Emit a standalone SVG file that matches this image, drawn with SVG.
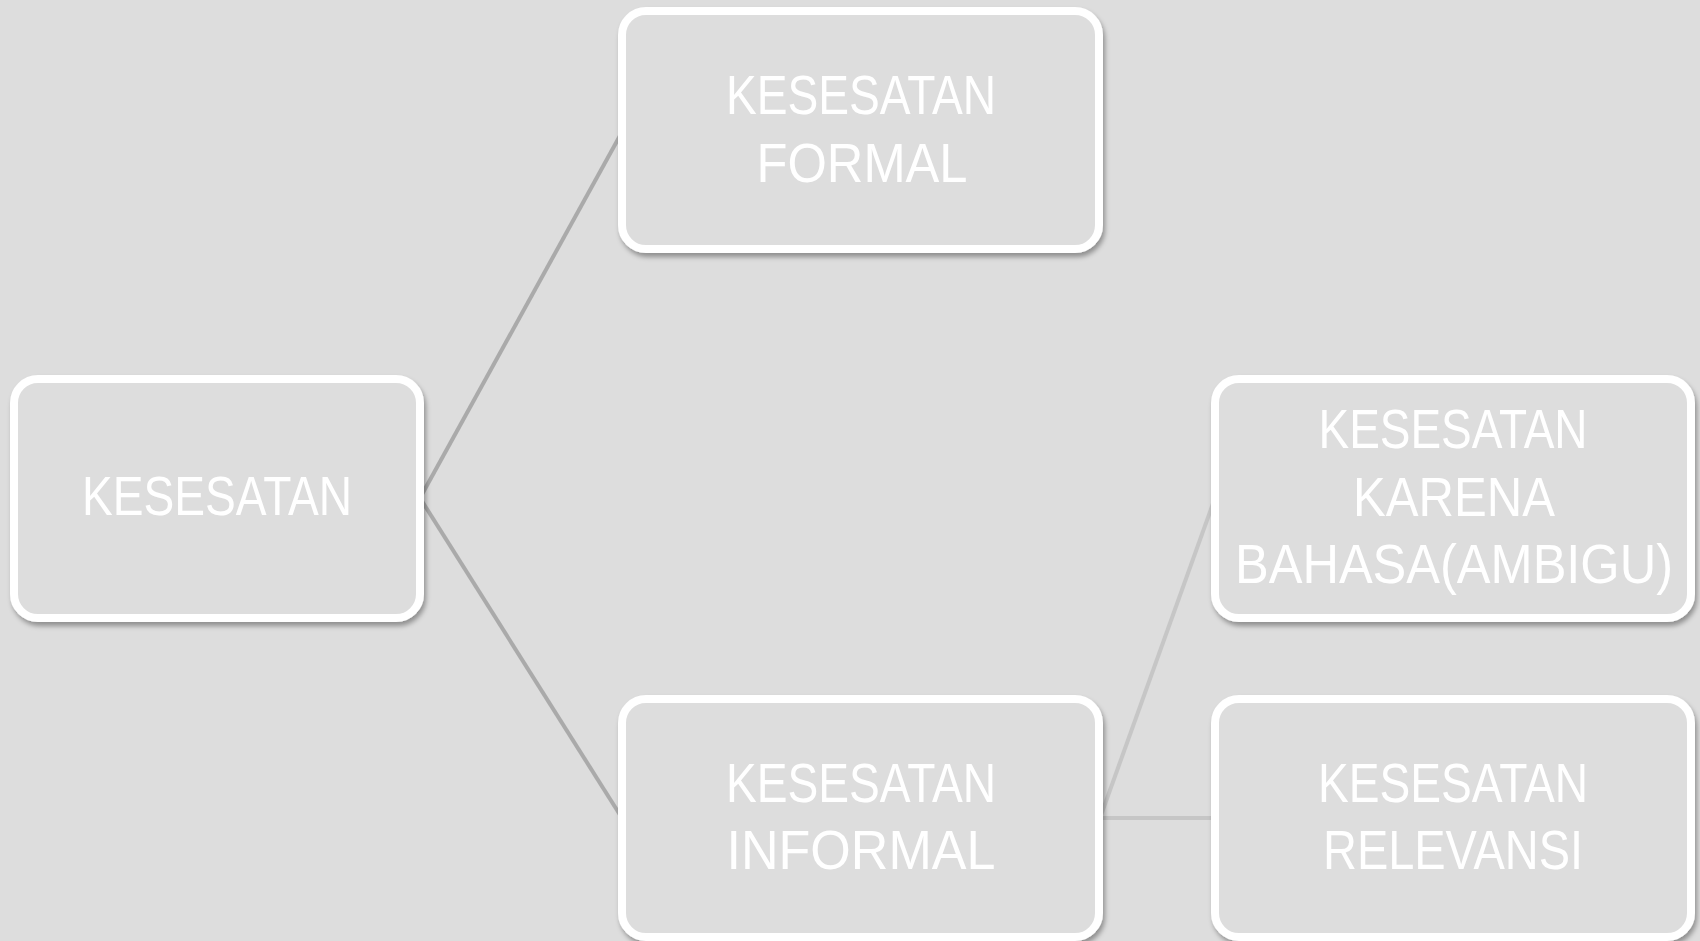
<svg xmlns="http://www.w3.org/2000/svg" width="1700" height="941" viewBox="0 0 1700 941">
<defs>
<filter id="sh" x="-5%" y="-5%" width="115%" height="120%">
<feDropShadow dx="2" dy="4" stdDeviation="2.5" flood-color="#000" flood-opacity="0.35"/>
</filter>
<style>
.box{fill:#dddddd;stroke:#ffffff;stroke-width:8;filter:url(#sh)}
.t{font-family:"Liberation Sans",Arial,sans-serif;font-size:55px;fill:#ffffff;text-anchor:middle}
.c1{stroke:#aaaaaa;stroke-width:4;fill:none}
.c2{stroke:#c6c6c6;stroke-width:4;fill:none}
</style>
</defs>
<rect width="1700" height="941" fill="#dddddd"/>
<g id="connectors">
<line class="c1" x1="420" y1="498" x2="622" y2="132"/>
<line class="c1" x1="420" y1="498" x2="622" y2="818"/>
<line class="c2" x1="1100" y1="818" x2="1215" y2="498"/>
<line class="c2" x1="1100" y1="818" x2="1215" y2="818"/>
</g>
<g id="n-kesesatan">
<rect class="box" x="14" y="379" width="406" height="239" rx="24"/>
<text class="t" x="217" y="515" textLength="270" lengthAdjust="spacingAndGlyphs">KESESATAN</text>
</g>
<g id="n-formal">
<rect class="box" x="622" y="11" width="477" height="238" rx="24"/>
<text class="t" x="861" y="114" textLength="270" lengthAdjust="spacingAndGlyphs">KESESATAN</text>
<text class="t" x="862" y="182" textLength="211" lengthAdjust="spacingAndGlyphs">FORMAL</text>
</g>
<g id="n-informal">
<rect class="box" x="622" y="699" width="477" height="238" rx="24"/>
<text class="t" x="861" y="802" textLength="270" lengthAdjust="spacingAndGlyphs">KESESATAN</text>
<text class="t" x="861" y="869" textLength="269" lengthAdjust="spacingAndGlyphs">INFORMAL</text>
</g>
<g id="n-bahasa">
<rect class="box" x="1215" y="379" width="476" height="239" rx="24"/>
<text class="t" x="1453" y="448" textLength="269" lengthAdjust="spacingAndGlyphs">KESESATAN</text>
<text class="t" x="1454" y="516" textLength="202" lengthAdjust="spacingAndGlyphs">KARENA</text>
<text class="t" x="1454" y="583" textLength="438" lengthAdjust="spacingAndGlyphs">BAHASA(AMBIGU)</text>
</g>
<g id="n-relevansi">
<rect class="box" x="1215" y="699" width="476" height="238" rx="24"/>
<text class="t" x="1453" y="802" textLength="270" lengthAdjust="spacingAndGlyphs">KESESATAN</text>
<text class="t" x="1453" y="869" textLength="260" lengthAdjust="spacingAndGlyphs">RELEVANSI</text>
</g>
</svg>
